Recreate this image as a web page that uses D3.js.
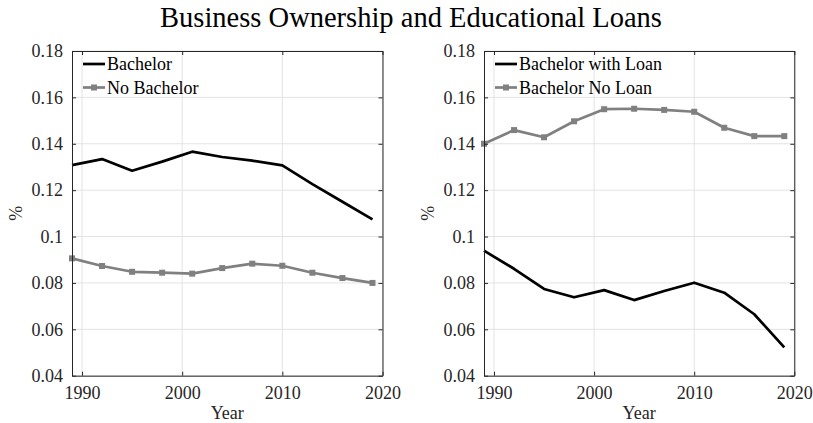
<!DOCTYPE html>
<html>
<head>
<meta charset="utf-8">
<script src="https://cdn.jsdelivr.net/npm/d3@7"></script>
<style>
  body { margin: 0; background: #fff; }
  svg text { font-family: "Liberation Serif", "DejaVu Serif", serif; fill: #262626; }
</style>
</head>
<body>
<svg id="chart" width="813" height="423"></svg>
<script>
// Survey years
const years = [1989, 1992, 1995, 1998, 2001, 2004, 2007, 2010, 2013, 2016, 2019];

// Left panel: share of business owners by degree
const bachelor   = [0.1308, 0.1334, 0.1284, 0.1323, 0.1366, 0.1343, 0.1327, 0.1307, 0.1226, 0.1150, 0.1074];
const noBachelor = [0.0906, 0.0873, 0.0848, 0.0844, 0.0840, 0.0864, 0.0883, 0.0874, 0.0844, 0.0821, 0.0800];

// Right panel: bachelor holders by student-loan status
const bachelorLoan   = [0.0939, 0.0861, 0.0774, 0.0738, 0.0769, 0.0726, 0.0765, 0.0801, 0.0758, 0.0665, 0.0522];
const bachelorNoLoan = [0.1400, 0.1459, 0.1428, 0.1497, 0.1549, 0.1551, 0.1546, 0.1538, 0.1469, 0.1433, 0.1433];

const xTicks = [1990, 2000, 2010, 2020];
const yTicks = [0.04, 0.06, 0.08, 0.10, 0.12, 0.14, 0.16, 0.18];
const yTickLabels = ["0.04", "0.06", "0.08", "0.1", "0.12", "0.14", "0.16", "0.18"];

const chartTitle = "Business Ownership and Educational Loans";

const panels = [
  { left: 72,  right: 382.5, series: [
      { name: "Bachelor", values: bachelor, color: "#000000", marker: false },
      { name: "No Bachelor", values: noBachelor, color: "#808080", marker: true } ] },
  { left: 484, right: 794.3, series: [
      { name: "Bachelor with Loan", values: bachelorLoan, color: "#000000", marker: false },
      { name: "Bachelor No Loan", values: bachelorNoLoan, color: "#808080", marker: true } ] }
];

const plotTop = 51, plotBottom = 375.7;
const serif = "'Liberation Serif', 'DejaVu Serif', serif";
const svg = d3.select("#chart");
const axisColor = "#262626";

svg.append("text")
  .attr("x", 411).attr("y", 27)
  .attr("text-anchor", "middle")
  .attr("font-family", serif)
  .style("font-size", "28.5px")
  .style("fill", "#000")
  .text(chartTitle);

panels.forEach(p => {
  const x = d3.scaleLinear().domain([1989, 2020]).range([p.left, p.right]);
  const y = d3.scaleLinear().domain([0.04, 0.18]).range([plotBottom, plotTop]);
  const g = svg.append("g");

  // grid
  g.selectAll(".gx").data(xTicks).join("line")
    .attr("x1", d => x(d)).attr("x2", d => x(d))
    .attr("y1", plotTop).attr("y2", plotBottom)
    .attr("stroke", "#e3e3e3").attr("stroke-width", 1);
  g.selectAll(".gy").data(yTicks).join("line")
    .attr("x1", p.left).attr("x2", p.right)
    .attr("y1", d => y(d)).attr("y2", d => y(d))
    .attr("stroke", "#e3e3e3").attr("stroke-width", 1);

  // series
  const line = d3.line().x((d, i) => x(years[i])).y(d => y(d));
  p.series.forEach(s => {
    g.append("path").datum(s.values)
      .attr("d", line)
      .attr("fill", "none")
      .attr("stroke", s.color)
      .attr("stroke-width", 2.7)
      .attr("stroke-linejoin", "round");
    if (s.marker) {
      g.selectAll(null).data(s.values).join("rect")
        .attr("x", (d, i) => x(years[i]) - 3)
        .attr("y", d => y(d) - 3)
        .attr("width", 6).attr("height", 6)
        .attr("fill", s.color);
    }
  });

  // axes (box with inward ticks on all sides)
  const tickLen = 4;
  const bottomAxis = d3.axisBottom(x).tickValues(xTicks).tickFormat(d3.format("d"))
    .tickSizeInner(-tickLen).tickSizeOuter(0).tickPadding(10.5);
  const topAxis = d3.axisTop(x).tickValues(xTicks).tickFormat("")
    .tickSizeInner(-tickLen).tickSizeOuter(0);
  const leftAxis = d3.axisLeft(y).tickValues(yTicks).tickFormat((d, i) => yTickLabels[i])
    .tickSizeInner(-tickLen).tickSizeOuter(0).tickPadding(9);
  const rightAxis = d3.axisRight(y).tickValues(yTicks).tickFormat("")
    .tickSizeInner(-tickLen).tickSizeOuter(0);

  const gb = g.append("g").attr("transform", `translate(0,${plotBottom})`).call(bottomAxis);
  const gt = g.append("g").attr("transform", `translate(0,${plotTop})`).call(topAxis);
  const gl = g.append("g").attr("transform", `translate(${p.left},0)`).call(leftAxis);
  const gr = g.append("g").attr("transform", `translate(${p.right},0)`).call(rightAxis);
  [gb, gt, gl, gr].forEach(a => {
    a.attr("font-family", serif).attr("font-size", 18);
    a.selectAll("path, line").attr("stroke", axisColor);
    a.selectAll("text").attr("font-family", serif).style("font-size", "18px").attr("fill", axisColor);
  });

  // axis titles
  g.append("text")
    .attr("x", (p.left + p.right) / 2).attr("y", 419)
    .attr("text-anchor", "middle")
    .attr("font-family", serif)
    .style("font-size", "18px")
    .text("Year");
  g.append("text")
    .attr("transform", `translate(${p.left - 50},${(plotTop + plotBottom) / 2}) rotate(-90)`)
    .attr("text-anchor", "middle")
    .attr("font-family", serif)
    .style("font-size", "18px")
    .text("%");

  // legend
  p.series.forEach((s, i) => {
    const ly = 64 + i * 23.5;
    const lx = p.left + 11;
    g.append("line")
      .attr("x1", lx).attr("x2", lx + 22)
      .attr("y1", ly).attr("y2", ly)
      .attr("stroke", s.color).attr("stroke-width", 2.7);
    if (s.marker) {
      g.append("rect").attr("x", lx + 8).attr("y", ly - 3)
        .attr("width", 6).attr("height", 6).attr("fill", s.color);
    }
    g.append("text")
      .attr("x", lx + 24).attr("y", ly + 6)
      .attr("font-family", serif)
      .style("font-size", "18px")
      .style("fill", "#000")
      .text(s.name);
  });
});
</script>
</body>
</html>
